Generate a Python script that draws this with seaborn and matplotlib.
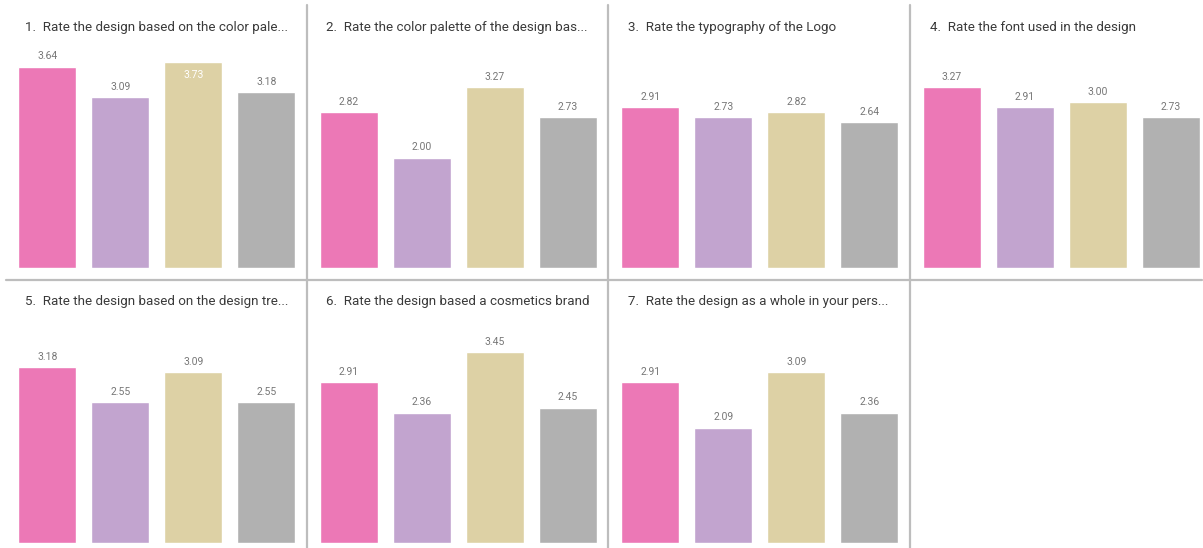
import numpy as np
import pandas as pd
import matplotlib
matplotlib.use("Agg")
import matplotlib.pyplot as plt
import seaborn as sns

sns.set_theme(style="white")
plt.rcParams['font.family'] = ['Roboto', 'DejaVu Sans']

# panel titles as shown (truncated in the original)
titles = [
    "1.  Rate the design based on the color pale...",
    "2.  Rate the color palette of the design bas...",
    "3.  Rate the typography of the Logo",
    "4.  Rate the font used in the design",
    "5.  Rate the design based on the design tre...",
    "6.  Rate the design based a cosmetics brand",
    "7.  Rate the design as a whole in your pers...",
]
designs = ["Design A", "Design B", "Design C", "Design D"]
colors = ["#EC78B6", "#C2A4CF", "#DDD1A5", "#B1B1B1"]

q1 = [3.64, 3.09, 3.73, 3.18]
q2 = [2.82, 2.00, 3.27, 2.73]
q3 = [2.91, 2.73, 2.82, 2.64]
q4 = [3.27, 2.91, 3.00, 2.73]
q5 = [3.18, 2.55, 3.09, 2.55]
q6 = [2.91, 2.36, 3.45, 2.45]
q7 = [2.91, 2.09, 3.09, 2.36]
scores = [q1, q2, q3, q4, q5, q6, q7]

W, H = 1203, 548
fig = plt.figure(figsize=(W / 100, H / 100), dpi=100)

# separators between panels
line_kw = dict(color="#BDBDBD", lw=1.6, transform=fig.transFigure, zorder=0)
for xs in [307, 608, 910]:
    fig.add_artist(plt.Line2D([xs / W, xs / W], [0, 1 - 5 / H], **line_kw))
fig.add_artist(plt.Line2D([6 / W, 1202 / W], [1 - 280 / H, 1 - 280 / H], **line_kw))

step = 301.5
for i, (title, vals) in enumerate(zip(titles, scores)):
    row, col = divmod(i, 4)
    left = 10.7 + step * col
    bottom_px = 268 if row == 0 else 543
    top_px = bottom_px - 221
    ax = fig.add_axes([left / W, 1 - bottom_px / H, 292 / W, (bottom_px - top_px) / H])
    df = pd.DataFrame({"design": designs, "score": vals})
    sns.barplot(data=df, x="design", y="score", hue="design", palette=colors,
                width=0.8, legend=False, ax=ax, saturation=1)
    ax.set_ylim(0, 4)
    ax.set_xlim(-0.5, 3.5)
    ax.set_axis_off()
    for bar, v in zip(ax.patches, vals):
        xc = bar.get_x() + bar.get_width() / 2
        if v > 3.7:
            ax.annotate(f"{v:.2f}", (xc, v), xytext=(0, -6), textcoords="offset points",
                        ha="center", va="top", fontsize=7.5, color="white")
        else:
            ax.annotate(f"{v:.2f}", (xc, v), xytext=(0, 4), textcoords="offset points",
                        ha="center", va="bottom", fontsize=7.5, color="#777777")
    fig.text((25 + step * col) / W, 1 - (27 if row == 0 else 302) / H, title,
             ha="left", va="center", fontsize=9.6, color="#3A3A3A")

fig.savefig("out.png", dpi=100)
